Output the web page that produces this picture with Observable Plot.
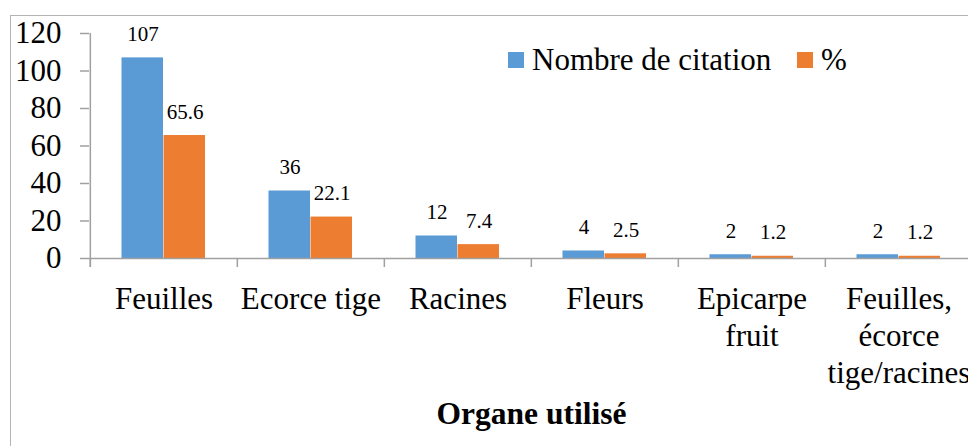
<!DOCTYPE html>
<html><head><meta charset="utf-8">
<script src="https://cdn.jsdelivr.net/npm/d3@7"></script>
<script src="https://cdn.jsdelivr.net/npm/@observablehq/plot@0.6"></script>
<style>
html,body{margin:0;padding:0;background:#fff;overflow:hidden;}
#wrap{position:relative;width:968px;height:446px;font-family:'Liberation Serif',serif;overflow:hidden;}
#wrap svg{position:absolute;left:0;top:0;}
#frame{position:absolute;left:9.5px;top:14.5px;width:1000px;height:500px;border:1px solid #b4b4b4;box-sizing:border-box;}
.sw{position:absolute;width:16px;height:16px;}
.lt{position:absolute;font-family:'Liberation Serif',serif;font-size:31px;line-height:31px;color:#000;white-space:nowrap;}
</style></head><body><div id="wrap"></div>
<script>
const categories = ["Feuilles","Ecorce tige","Racines","Fleurs","Epicarpe fruit","Feuilles, écorce tige/racines"];
const categoryLabels = ["Feuilles","Ecorce tige","Racines","Fleurs","Epicarpe\nfruit","Feuilles,\nécorce\ntige/racines"];
const nombreCitation = [107,36,12,4,2,2];
const pourcentage = [65.6,22.1,7.4,2.5,1.2,1.2];
const pourcentageLabels = ["65.6","22.1","7.4","2.5","1.2","1.2"];
const seriesNames = ["Nombre de citation","%"];
const seriesColors = ["#5B9BD5","#ED7D31"];
const yTicks = [0,20,40,60,80,100,120];
const axisTitle = "Organe utilisé";

const rows = categories.map((c,i)=>({cat:c, n:nombreCitation[i], p:pourcentage[i], pl:pourcentageLabels[i]}));
const axisColor = "#a0a0a0";
const serif = "'Liberation Serif', serif";
const xRange = [89, 973];
const half = (xRange[1]-xRange[0])/categories.length/2;

const chart = Plot.plot({
  width: 968, height: 446,
  marginLeft: 89, marginTop: 33, marginBottom: 188, marginRight: 0,
  style: "font-family: 'Liberation Serif', serif; background: transparent; color: #000;",
  x: {domain: categories, range: xRange, paddingInner: 0, paddingOuter: 0, label: null},
  y: {domain: [0,120], range: [258, 33], label: null},
  marks: [
    Plot.barY(rows, {x:"cat", y:"n", fill: seriesColors[0], insetLeft: 31.5, insetRight: 74}),
    Plot.barY(rows, {x:"cat", y:"p", fill: seriesColors[1], insetLeft: 73.5, insetRight: 32}),
    Plot.ruleY([0], {stroke: axisColor, strokeWidth: 1.5}),
    Plot.ruleX(categories, {x: d=>d, y1: 0, y2: 0, dx: -half, insetBottom: -9, stroke: axisColor, strokeWidth: 1.5}),
    Plot.ruleX([categories[0]], {x: d=>d, y1: 120, y2: 0, dx: -half, insetBottom: -9, stroke: axisColor, strokeWidth: 1.5}),
    Plot.axisY({ticks: yTicks, tickSize: 9, tickPadding: 19, fontSize: 31, fontFamily: serif, stroke: axisColor, strokeWidth: 1.5, fill: "#000", label: null}),
    Plot.axisX({tickSize: 0, tickPadding: 25, fontSize: 31, fontFamily: serif, lineHeight: 1.18, fill: "#000",
      tickFormat: d => categoryLabels[categories.indexOf(d)], label: null}),
    Plot.text(rows, {x:"cat", y:"n", text: d=>String(d.n), dx:-21, dy:-17, lineAnchor:"bottom", fontSize:21, fontFamily: serif, fill:"#000"}),
    Plot.text(rows, {x:"cat", y:"p", text: "pl", dx:21, dy:-17, lineAnchor:"bottom", fontSize:21, fontFamily: serif, fill:"#000"}),
    Plot.text([axisTitle], {text: d=>d, frameAnchor: "bottom", dy: 165, dx: 2.5, fontSize: 31.5, fontFamily: serif, fontWeight: "bold", fill: "#000"})
  ]
});
const wrap = document.getElementById("wrap");
wrap.appendChild(chart);
const frame = document.createElement("div"); frame.id = "frame"; wrap.appendChild(frame);
const legendPos = [{sw:507.5, tx:532}, {sw:797, tx:821}];
seriesNames.forEach((name,i)=>{
  const s = document.createElement("div"); s.className = "sw";
  s.style.left = legendPos[i].sw + "px"; s.style.top = "52px"; s.style.background = seriesColors[i];
  wrap.appendChild(s);
  const t = document.createElement("div"); t.className = "lt";
  t.style.left = legendPos[i].tx + "px"; t.style.top = "44px"; t.textContent = name;
  wrap.appendChild(t);
});
</script></body></html>
